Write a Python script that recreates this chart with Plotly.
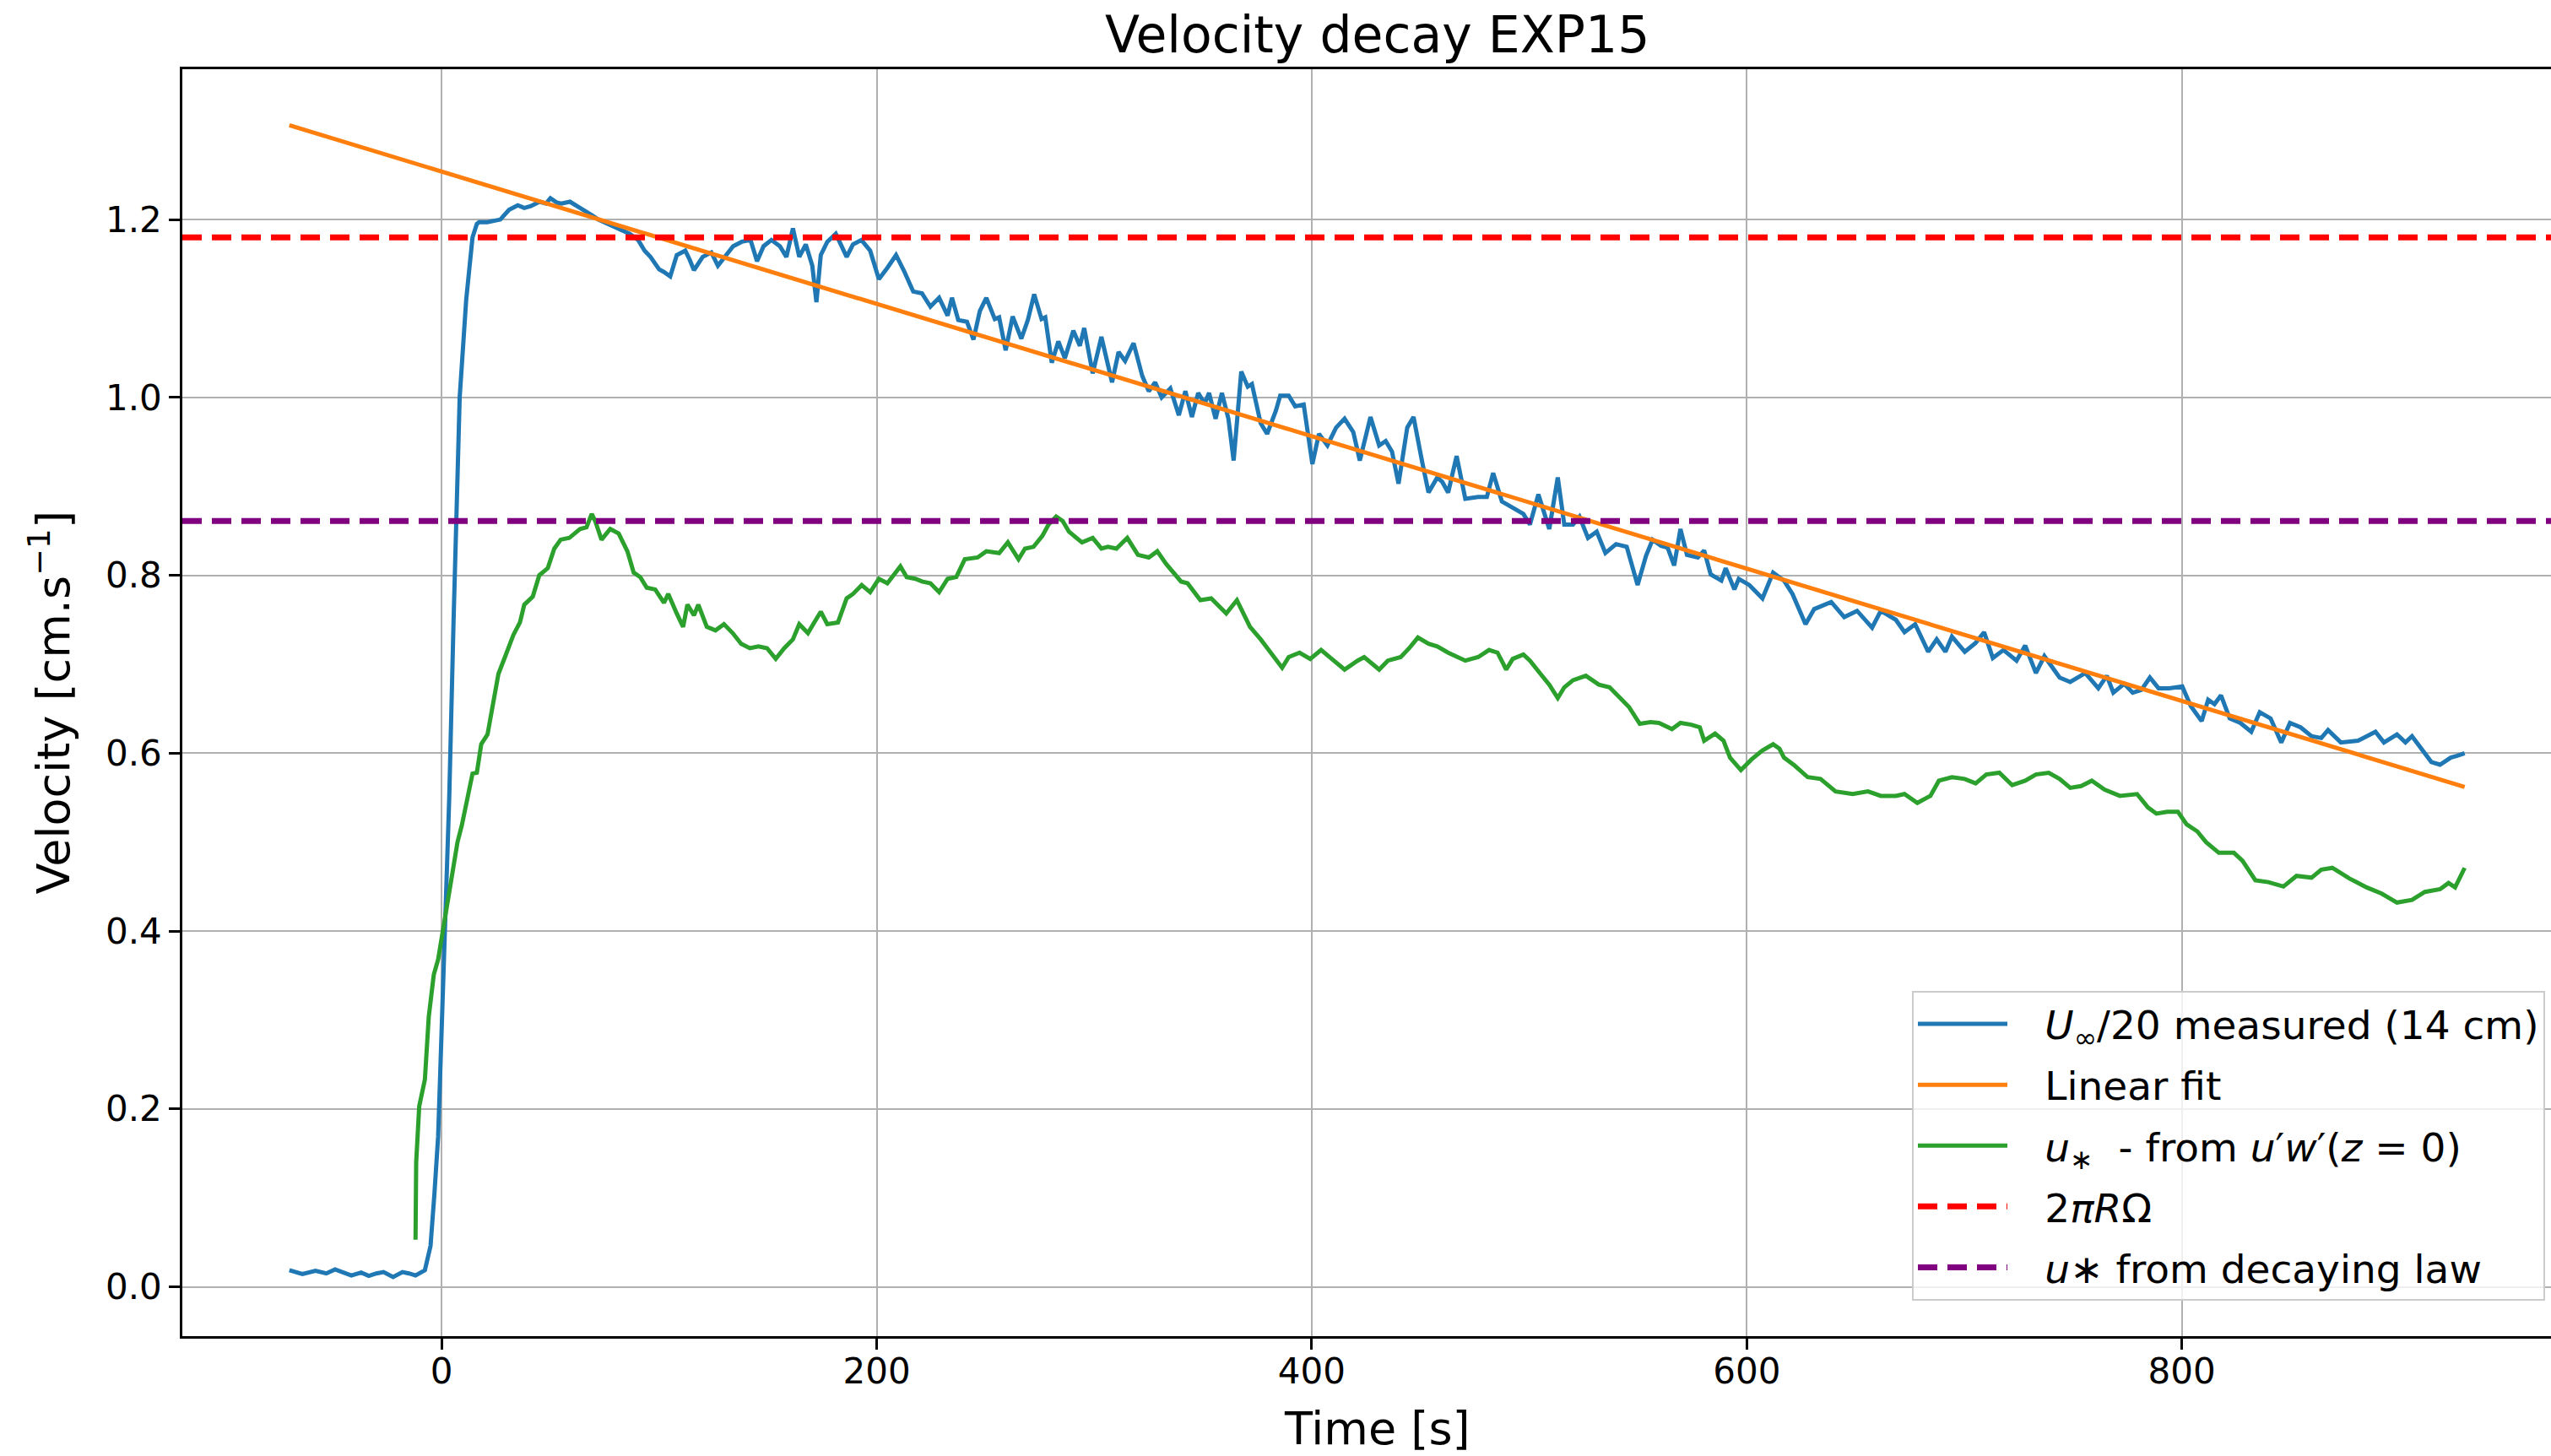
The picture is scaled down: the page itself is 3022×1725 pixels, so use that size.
import plotly.graph_objects as go

# ---------------- data ----------------
t_blue = [-70, -64, -58, -53, -49, -45, -41.5, -37, -33.5, -30, -26.7, -22.3, -18, -15, -12, -7.7, -5.1, -3.3, -1.6, 0.1,
          1.9, 3.5, 5.5, 8.3, 11.3, 14.2, 16.2, 17.2, 21, 24, 27, 31, 35, 38, 41, 45, 48, 50, 53, 55, 59, 63, 66, 69, 72,
          74.5, 77, 80.4, 83, 86.4, 90.3, 93.3, 96, 98.2, 100, 102.2, 105.1, 108.1, 112, 114, 116, 120, 124, 127, 130,
          134, 138, 142, 145, 148, 151.6, 155.5, 158.5, 161.5, 164.4, 167.4, 170.4, 172.3, 174.3, 177.3, 181.2, 186.2,
          189.1, 193, 197, 201, 205, 208.9, 212.8, 216.8, 220.8, 224.7, 228.7, 232.6, 234.6, 237.5, 241.5, 244.5, 247.4,
          250.4, 254.3, 256.3, 259.3, 262.5, 266.5, 269.5, 272.4, 275.8, 277.5, 280.5, 283.5, 286.5, 290.4, 293.4, 295.4,
          299.3, 303.3, 308.2, 311.2, 314.2, 318.1, 322.1, 325.1, 328, 331, 335, 338.9, 341.9, 344.9, 347.8, 350.8, 352.8,
          355.8, 358.7, 361.7, 364.1, 367.6, 370.6, 372.5, 376.5, 379.5, 383.5, 385.5, 389.4, 392.4, 396.3, 400.3, 403.3,
          407.2, 411.2, 415.1, 419.1, 422.1, 427, 431, 434, 436.9, 439.9, 443.9, 446.8, 450.8, 453.7, 457.7, 460, 462.7,
          466.6, 470.6, 476.5, 480.5, 483.4, 487.4, 492.4, 497.3, 500.3, 504.2, 509.2, 513.1, 516.1, 520.1, 523.1, 527,
          531, 535, 539.9, 544.8, 549.8, 553.7, 556.7, 560.6, 563.6, 566.6, 569.5, 572.5, 577.5, 580.4, 583.4, 588.3,
          590.3, 594.3, 596.3, 601.2, 607.2, 612.1, 617.1, 621, 627, 631, 638.8, 644.8, 650.7, 657.6, 661.6, 668.5, 672.5,
          677.4, 683.4, 687.3, 691.3, 694.3, 700.2, 705.2, 709.1, 713.1, 718, 724, 728, 732.9, 736.8, 743.8, 748.7, 755.6,
          761.6, 765.5, 768.5, 773.5, 777.4, 781.4, 785.3, 789.3, 794.2, 800.2, 804.1, 809.1, 812.1, 815, 818, 822, 826.9,
          831.9, 835.8, 840.8, 845.7, 849.7, 854.6, 859.6, 864.1, 867.2, 873.1, 881, 889, 892.9, 898.9, 902.8, 905.8,
          909.7, 914.7, 918.7, 923.6, 926.6, 930]
v_blue = [0.0186, 0.0144, 0.018, 0.015, 0.0195, 0.016, 0.0127, 0.016, 0.0123, 0.015, 0.0165, 0.011, 0.0165, 0.015, 0.0127,
          0.0186, 0.046, 0.105, 0.169, 0.296, 0.423, 0.55, 0.75, 1.0, 1.11, 1.18, 1.195, 1.197, 1.197, 1.198, 1.2, 1.211,
          1.216, 1.213, 1.215, 1.22, 1.218, 1.224, 1.219, 1.218, 1.22, 1.214, 1.21, 1.205, 1.2, 1.197, 1.195, 1.19, 1.188,
          1.184, 1.177, 1.165, 1.158, 1.15, 1.144, 1.141, 1.136, 1.16, 1.165, 1.155, 1.143, 1.158, 1.163, 1.148, 1.158,
          1.17, 1.175, 1.177, 1.153, 1.17, 1.177, 1.17, 1.158, 1.19, 1.158, 1.172, 1.148, 1.107, 1.16, 1.175, 1.184,
          1.158, 1.172, 1.177, 1.165, 1.133, 1.146, 1.16, 1.141, 1.119, 1.117, 1.102, 1.112, 1.092, 1.112, 1.087, 1.085,
          1.065, 1.097, 1.112, 1.088, 1.09, 1.053, 1.091, 1.066, 1.087, 1.116, 1.088, 1.09, 1.039, 1.063, 1.044, 1.075,
          1.058, 1.078, 1.027, 1.068, 1.017, 1.051, 1.041, 1.061, 1.024, 1.007, 1.017, 1.0, 1.01, 0.98, 1.007, 0.978,
          1.005, 0.993, 1.005, 0.976, 1.005, 0.976, 0.929, 1.029, 1.012, 1.015, 0.971, 0.959, 0.985, 1.002, 1.002, 0.99,
          0.992, 0.925, 0.959, 0.946, 0.966, 0.976, 0.961, 0.929, 0.978, 0.946, 0.951, 0.939, 0.903, 0.966, 0.978, 0.927,
          0.893, 0.91, 0.905, 0.893, 0.934, 0.886, 0.888, 0.888, 0.915, 0.883, 0.876, 0.869, 0.857, 0.891, 0.852, 0.91,
          0.857, 0.857, 0.866, 0.842, 0.849, 0.825, 0.835, 0.832, 0.789, 0.822, 0.84, 0.833, 0.831, 0.811, 0.852, 0.823,
          0.82, 0.828, 0.801, 0.794, 0.808, 0.784, 0.796, 0.789, 0.774, 0.803, 0.794, 0.779, 0.745, 0.762, 0.77, 0.753,
          0.76, 0.741, 0.76, 0.75, 0.736, 0.745, 0.714, 0.728, 0.714, 0.731, 0.714, 0.724, 0.736, 0.707, 0.716, 0.704,
          0.721, 0.69, 0.709, 0.685, 0.68, 0.69, 0.673, 0.687, 0.668, 0.678, 0.668, 0.671, 0.685, 0.673, 0.673, 0.675,
          0.653, 0.636, 0.66, 0.655, 0.665, 0.639, 0.634, 0.624, 0.646, 0.639, 0.612, 0.634, 0.629, 0.619, 0.617, 0.626,
          0.612, 0.614, 0.624, 0.612, 0.621, 0.612, 0.619, 0.607, 0.59, 0.587, 0.595, 0.597, 0.6]

t_fit = [-70, 930]
v_fit = [1.306, 0.562]

t_green = [-12, -11.7, -10.3, -7.7, -5.9, -3.6, -1.6, 1.9, 4.5, 7.3, 9.3, 12.3, 14.2, 16.2, 18.2, 21.1, 23.1, 26.1, 29.1,
           33, 36, 38, 41.9, 44.9, 48.8, 51.8, 54.7, 58.7, 63.6, 66.6, 69, 70.6, 73.5, 77.5, 81.4, 85.4, 88.3, 91.3, 94.3,
           98.2, 102.2, 104.2, 108.1, 111, 113, 116, 118, 121.9, 125.9, 129.8, 133.8, 137.7, 141.7, 145.7, 149.6, 153.6,
           157.5, 161.5, 164.4, 168.4, 171.3, 174.3, 177.3, 182.2, 186.2, 189.1, 193.1, 197, 201, 204.9, 210.9, 213.8,
           217.8, 220.8, 224.7, 228.7, 232.6, 236.6, 240.5, 246.4, 250.4, 256.3, 260.3, 265.2, 268.2, 272.1, 276.1, 279,
           282.5, 285.5, 288.4, 294.4, 299.3, 303.3, 306.3, 310.2, 315.2, 320.1, 325.1, 329, 333, 339.9, 342.9, 348.8,
           353.8, 360.7, 365.6, 371.6, 376.5, 381.5, 386.4, 389.4, 394.4, 399.3, 404.3, 409.2, 415.1, 421.1, 424.1, 431,
           435, 440.9, 444.8, 448.8, 453.7, 457.7, 462.7, 470.6, 476.5, 481.5, 485.4, 489.4, 492.4, 497.3, 500.3, 505.2,
           509.2, 513.1, 516.1, 520.1, 526, 532, 536.9, 541.8, 545.8, 550.8, 555.7, 559.6, 565.6, 569.5, 574.5, 578.4,
           580.4, 585.4, 589.3, 592.3, 597.3, 602.2, 607.2, 612.1, 615, 617.1, 622, 628, 633.9, 640.8, 648.7, 655.7,
           661.6, 668.5, 672.5, 678.4, 684.4, 688.3, 694.3, 700.2, 705.2, 710.1, 716.1, 722, 728, 732.9, 738.8, 743.8,
           748.7, 753.7, 758.6, 764.5, 771.5, 779.4, 784.4, 788.3, 793.3, 798.2, 802.2, 807.1, 811.1, 817, 823.9, 827.9,
           833.8, 839.8, 846.7, 852.7, 859.6, 864.1, 869.2, 877.1, 885, 891.9, 898.9, 905.8, 911.7, 918.7, 922.6, 925.6, 930]
v_green = [0.053, 0.14, 0.203, 0.233, 0.304, 0.351, 0.368, 0.419, 0.457, 0.5, 0.519, 0.553, 0.577, 0.578, 0.61, 0.621,
           0.65, 0.689, 0.708, 0.733, 0.747, 0.767, 0.776, 0.8, 0.808, 0.83, 0.84, 0.842, 0.852, 0.854, 0.869, 0.861, 0.84,
           0.852, 0.847, 0.827, 0.803, 0.798, 0.786, 0.784, 0.769, 0.779, 0.757, 0.742, 0.767, 0.755, 0.767, 0.742, 0.738,
           0.745, 0.735, 0.723, 0.718, 0.72, 0.718, 0.706, 0.718, 0.728, 0.745, 0.735, 0.747, 0.759, 0.745, 0.747, 0.774,
           0.779, 0.789, 0.781, 0.796, 0.791, 0.81, 0.798, 0.796, 0.793, 0.791, 0.781, 0.796, 0.798, 0.818, 0.82, 0.827,
           0.825, 0.837, 0.818, 0.83, 0.832, 0.844, 0.857, 0.866, 0.861, 0.849, 0.837, 0.842, 0.83, 0.832, 0.83, 0.842,
           0.823, 0.82, 0.827, 0.813, 0.793, 0.791, 0.772, 0.774, 0.757, 0.772, 0.742, 0.728, 0.711, 0.696, 0.708, 0.713,
           0.706, 0.716, 0.706, 0.694, 0.704, 0.708, 0.694, 0.704, 0.708, 0.718, 0.73, 0.723, 0.72, 0.713, 0.704, 0.708,
           0.716, 0.713, 0.694, 0.706, 0.711, 0.704, 0.689, 0.677, 0.662, 0.674, 0.682, 0.687, 0.677, 0.674, 0.662, 0.652,
           0.633, 0.635, 0.634, 0.627, 0.634, 0.632, 0.629, 0.614, 0.622, 0.614, 0.595, 0.581, 0.593, 0.603, 0.61, 0.605,
           0.595, 0.586, 0.573, 0.571, 0.557, 0.554, 0.557, 0.552, 0.552, 0.554, 0.544, 0.552, 0.569, 0.573, 0.571, 0.566,
           0.576, 0.578, 0.564, 0.569, 0.576, 0.578, 0.571, 0.561, 0.563, 0.569, 0.559, 0.552, 0.554, 0.539, 0.532, 0.534,
           0.534, 0.52, 0.512, 0.5, 0.488, 0.488, 0.479, 0.457, 0.455, 0.45, 0.462, 0.46, 0.469, 0.471, 0.459, 0.449,
           0.442, 0.432, 0.435, 0.444, 0.447, 0.454, 0.449, 0.471]

v_red = 1.18      # 2*pi*R*Omega
v_purple = 0.861  # u* from decaying law

x_range = [-119.2, 969.7]
y_range = [-0.0555, 1.369]
x_ticks = [0, 200, 400, 600, 800]
y_ticks = [0.0, 0.2, 0.4, 0.6, 0.8, 1.0, 1.2]

PAD = "&nbsp;&nbsp;\u2009"
names = [PAD + "<i>U</i><sub>∞</sub>/20 measured (14 cm)",
         PAD + "Linear fit",
         PAD + "<i>u</i><sub>∗</sub>  - from <i>u</i>′<i>w</i>′(<i>z</i> = 0)",
         PAD + "2<i>πR</i>Ω",
         PAD + "<i>u</i>∗ from decaying law"]

FONT = "DejaVu Sans"

fig = go.Figure()
fig.add_trace(go.Scatter(x=t_blue, y=v_blue, mode="lines", name=names[0], legendgroup="a",
                         line=dict(color="#1f77b4", width=5)))
fig.add_trace(go.Scatter(x=t_fit, y=v_fit, mode="lines", name=names[1], legendgroup="b",
                         line=dict(color="#ff7f0e", width=5)))
fig.add_trace(go.Scatter(x=t_green, y=v_green, mode="lines", name=names[2], legendgroup="c",
                         line=dict(color="#2ca02c", width=5)))
fig.add_trace(go.Scatter(x=x_range, y=[v_red, v_red], mode="lines", name=names[3], legendgroup="d",
                         line=dict(color="#ff0000", width=7, dash="23px,12px")))
fig.add_trace(go.Scatter(x=x_range, y=[v_purple, v_purple], mode="lines", name=names[4], legendgroup="e",
                         line=dict(color="#800080", width=7, dash="23px,12px")))

L, R, T, B = 216, 0, 82, 142
W, H = 3022, 1725
pw, ph = W - L - R, H - T - B

def px(X):
    return (X - L) / pw

def py(Y):
    return (H - B - Y) / ph

fig.update_layout(
    width=W, height=H, autosize=False,
    margin=dict(l=L, r=R, t=T, b=B, pad=0),
    paper_bgcolor="white", plot_bgcolor="white",
    font=dict(family=FONT, color="black", size=42),
    showlegend=True,
    legend=dict(x=px(2265), y=py(1174), xanchor="left", yanchor="top",
                bgcolor="rgba(255,255,255,0.8)", bordercolor="#cccccc", borderwidth=2,
                font=dict(family=FONT, size=47, color="black"),
                itemwidth=106, tracegroupgap=8, traceorder="grouped"),
    annotations=[
        dict(text="Velocity decay EXP15", x=px(1632), y=py(41), xref="paper", yref="paper",
             xanchor="center", yanchor="middle", showarrow=False,
             font=dict(family=FONT, size=60, color="black")),
        dict(text="Time [s]", x=px(1632), y=py(1692), xref="paper", yref="paper",
             xanchor="center", yanchor="middle", showarrow=False,
             font=dict(family=FONT, size=54, color="black")),
        dict(text="Velocity [cm.s<sup>−1</sup>]", x=px(60), y=0.5, xref="paper", yref="paper",
             xanchor="center", yanchor="middle", showarrow=False, textangle=-90,
             font=dict(family=FONT, size=54, color="black")),
    ],
)
fig.update_xaxes(range=x_range, tickvals=x_ticks, showgrid=True, gridcolor="#b0b0b0", gridwidth=2,
                 showline=True, linecolor="black", linewidth=2.5, mirror=True,
                 ticks="outside", ticklen=13, tickwidth=2.5, tickcolor="black", ticklabelstandoff=-10,
                 tickfont=dict(family=FONT, size=42, color="black"), zeroline=False)
fig.update_yaxes(range=y_range, tickvals=y_ticks, tickformat=".1f", showgrid=True, gridcolor="#b0b0b0", gridwidth=2,
                 showline=True, linecolor="black", linewidth=2.5, mirror=False,
                 ticks="outside", ticklen=13, tickwidth=2.5, tickcolor="black",
                 tickfont=dict(family=FONT, size=42, color="black"), zeroline=False)

fig.write_html("out.html")
